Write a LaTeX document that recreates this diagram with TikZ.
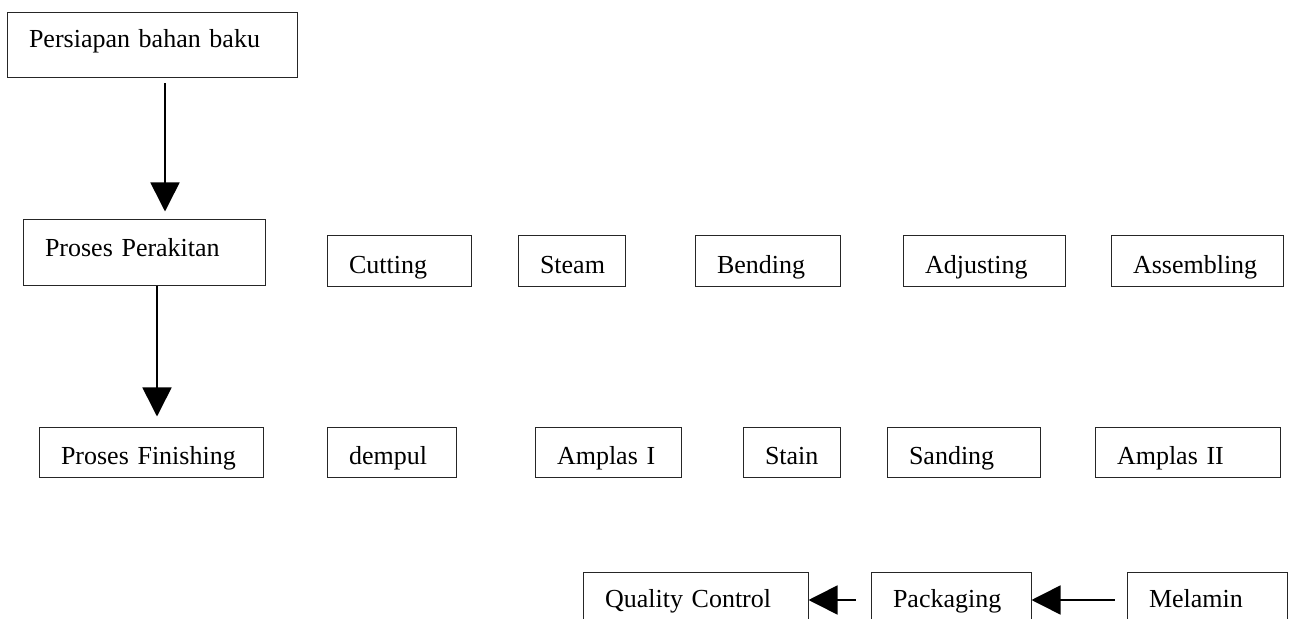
\documentclass[tikz,border=0pt]{standalone}
\usepackage{fontspec}
\setmainfont{Liberation Serif}
\usetikzlibrary{arrows.meta}
\tikzset{
  box/.style={draw=black!85, line width=0.5pt, rectangle, inner xsep=11pt, inner ysep=0pt,
    align=left, font=\fontsize{13}{15}\selectfont},
  rowA/.style={minimum height=32.5pt, text height=9pt, text depth=6.5pt},
  rowB/.style={minimum height=33pt, text height=9pt, text depth=5.3pt},
  rowone/.style={minimum height=25.5pt, text height=14pt, text depth=1.5pt},
  rowtwo/.style={minimum height=25pt, text height=14pt, text depth=2pt},
  rowthree/.style={minimum height=25.5pt, text height=12pt, text depth=2.5pt},
  arr/.style={line width=0.8pt, -{Triangle[length=14.5pt,width=14.5pt]}}
}
\begin{document}
\begin{tikzpicture}[x=0.5pt,y=-0.5pt]
\useasboundingbox (0,0) rectangle (1289,619);
\clip (0,0) rectangle (1289,619);
% column
\node[box,rowA,minimum width=145pt,text width=123pt] (A) at (152,45.5) {Persiapan bahan baku};
\node[box,rowB,minimum width=121pt,text width=99pt] (B) at (144,253) {Proses Perakitan};
% row 1
\node[box,rowone,minimum width=72pt,text width=50pt] (cut) at (399,261.5) {Cutting};
\node[box,rowone,minimum width=53.5pt,text width=31.5pt] (steam) at (571.5,261.5) {Steam};
\node[box,rowone,minimum width=72.5pt,text width=50.5pt] (bend) at (767.5,261.5) {Bending};
\node[box,rowone,minimum width=81pt,text width=59pt] (adj) at (984,261.5) {Adjusting};
\node[box,rowone,minimum width=86pt,text width=64pt] (ass) at (1197,261.5) {Assembling};
% row 2
\node[box,rowtwo,minimum width=112pt,text width=90pt] (C) at (151,453) {Proses Finishing};
\node[box,rowtwo,minimum width=64.5pt,text width=42.5pt] (dem) at (391.5,453) {dempul};
\node[box,rowtwo,minimum width=73pt,text width=51pt] (am1) at (608,453) {Amplas I};
\node[box,rowtwo,minimum width=48.5pt,text width=26.5pt] (stain) at (791.5,453) {Stain};
\node[box,rowtwo,minimum width=76.5pt,text width=54.5pt] (sand) at (963.5,453) {Sanding};
\node[box,rowtwo,minimum width=92.5pt,text width=70.5pt] (am2) at (1187.5,453) {Amplas II};
% row 3
\node[box,rowthree,minimum width=112.5pt,text width=90.5pt] (qc) at (695.5,597.5) {Quality Control};
\node[box,rowthree,minimum width=80pt,text width=58pt] (pack) at (951,597.5) {Packaging};
\node[box,rowthree,minimum width=80pt,text width=58pt] (mel) at (1207,597.5) {Melamin};
% connectors
\draw[arr, shorten <=2.5pt, shorten >=4pt] ([xshift=6.5pt]A.south) -- ([xshift=6.5pt]A.south |- B.north);
\draw[arr, shorten >=5.5pt] ([xshift=6.5pt]B.south) -- ([xshift=6.5pt]B.south |- C.north);
\draw[arr, shorten <=7.5pt] ([yshift=-1.25pt]pack.west) -- ([yshift=-1.25pt]qc.east);
\draw[arr, shorten <=6pt] ([yshift=-1.25pt]mel.west) -- ([yshift=-1.25pt]pack.east);
\end{tikzpicture}
\end{document}
